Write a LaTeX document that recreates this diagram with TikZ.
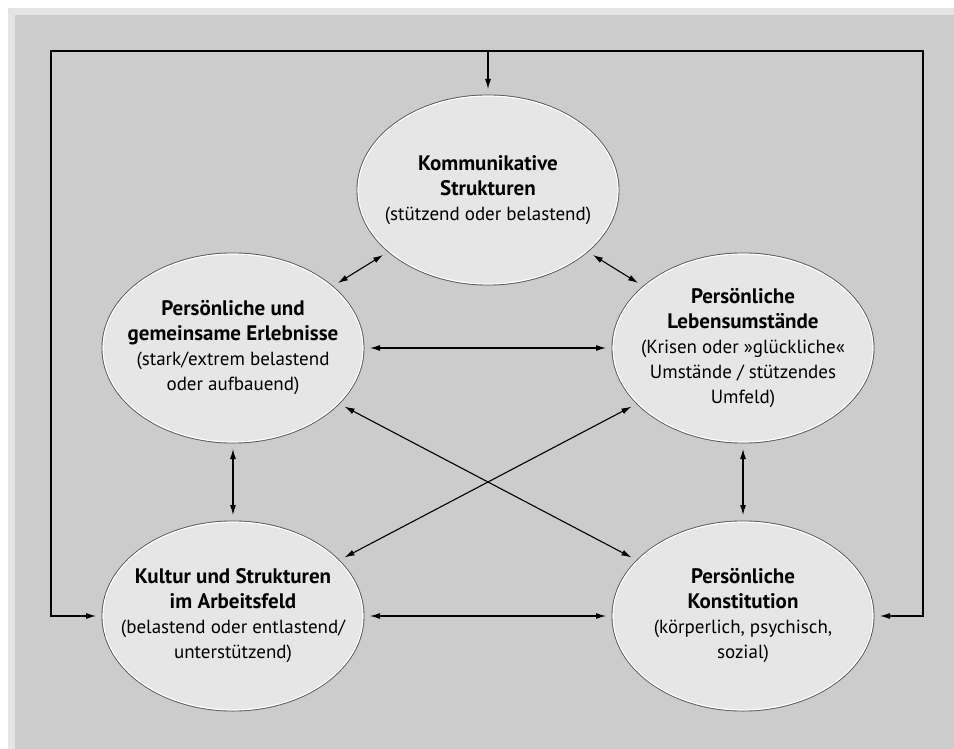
\documentclass[tikz,border=0pt]{standalone}
\usepackage{fontspec}
\setmainfont{PT Sans}
\usetikzlibrary{shapes.geometric,arrows.meta,positioning}
\definecolor{pagegray}{HTML}{CCCCCC}
\definecolor{rimgray}{HTML}{E4E4E4}
\definecolor{ellgray}{HTML}{E6E6E6}
\definecolor{edgegray}{HTML}{555555}
\newcommand{\titel}[1]{{\fontsize{21}{26}\selectfont\bfseries #1}}
\tikzset{
  ellbox/.style={ellipse, fill=ellgray, draw=white, line width=1.2pt,
    preaction={draw=edgegray, line width=3pt},
    minimum width=260pt, minimum height=188pt, inner xsep=-25pt, inner ysep=0pt, outer sep=7pt,
    align=center, font=\fontsize{19}{25}\selectfont},
  line/.style={draw, line width=1.1pt, {Latex[length=10pt,width=6pt]}-{Latex[length=10pt,width=6pt]}},
  oneway/.style={draw, line width=1.1pt, -{Latex[length=10pt,width=6pt]}}
}

\begin{document}
\begin{tikzpicture}[x=1pt, y=-1pt, on grid]

    % Background
    \fill [white] (0,0) rectangle (954,749);
    \fill [rimgray] (8,8) rectangle (954,749);
    \fill [pagegray] (15,15) rectangle (954,749);

    % Kommunikative Strukturen
    \node [ellbox] (komm) at (488,190) {\titel{Kommunikative}\\\titel{Strukturen}\\(stützend oder belastend)};

    % Persoenliche und gemeinsame Erlebnisse
    \node [ellbox, below left=158pt and 255pt of komm] (erleb) {\titel{Persönliche und}\\\titel{gemeinsame Erlebnisse}\\(stark/extrem belastend\\oder aufbauend)};

    % Persoenliche Lebensumstaende
    \node [ellbox, below right=158pt and 255pt of komm] (leben) {\titel{Persönliche}\\\titel{Lebensumstände}\\(Krisen oder »glückliche«\\Umstände / stützendes\\Umfeld)};

    % Kultur und Strukturen im Arbeitsfeld
    \node [ellbox, below=268pt of erleb] (kultur) {\titel{Kultur und Strukturen}\\\titel{im Arbeitsfeld}\\(belastend oder entlastend/\\unterstützend)};

    % Persoenliche Konstitution
    \node [ellbox, below=268pt of leben] (konst) {\titel{Persönliche}\\\titel{Konstitution}\\(körperlich, psychisch,\\sozial)};

    % Frame
    \coordinate (frameL) at (51,51);
    \coordinate (frameR) at (923,51);
    \coordinate (frameT) at (komm |- frameL);

    % Arrows
    \path [line] (kultur) -| (frameL) -- (frameR) |- (konst);
    \path [oneway] (frameT) -- (komm);
    \path [line] (komm) -- (erleb);
    \path [line] (komm) -- (leben);
    \path [line] (erleb) -- (leben);
    \path [line] (erleb) -- (kultur);
    \path [line] (leben) -- (konst);
    \path [line] (erleb) -- (konst);
    \path [line] (leben) -- (kultur);
    \path [line] (kultur) -- (konst);

\end{tikzpicture}
\end{document}
